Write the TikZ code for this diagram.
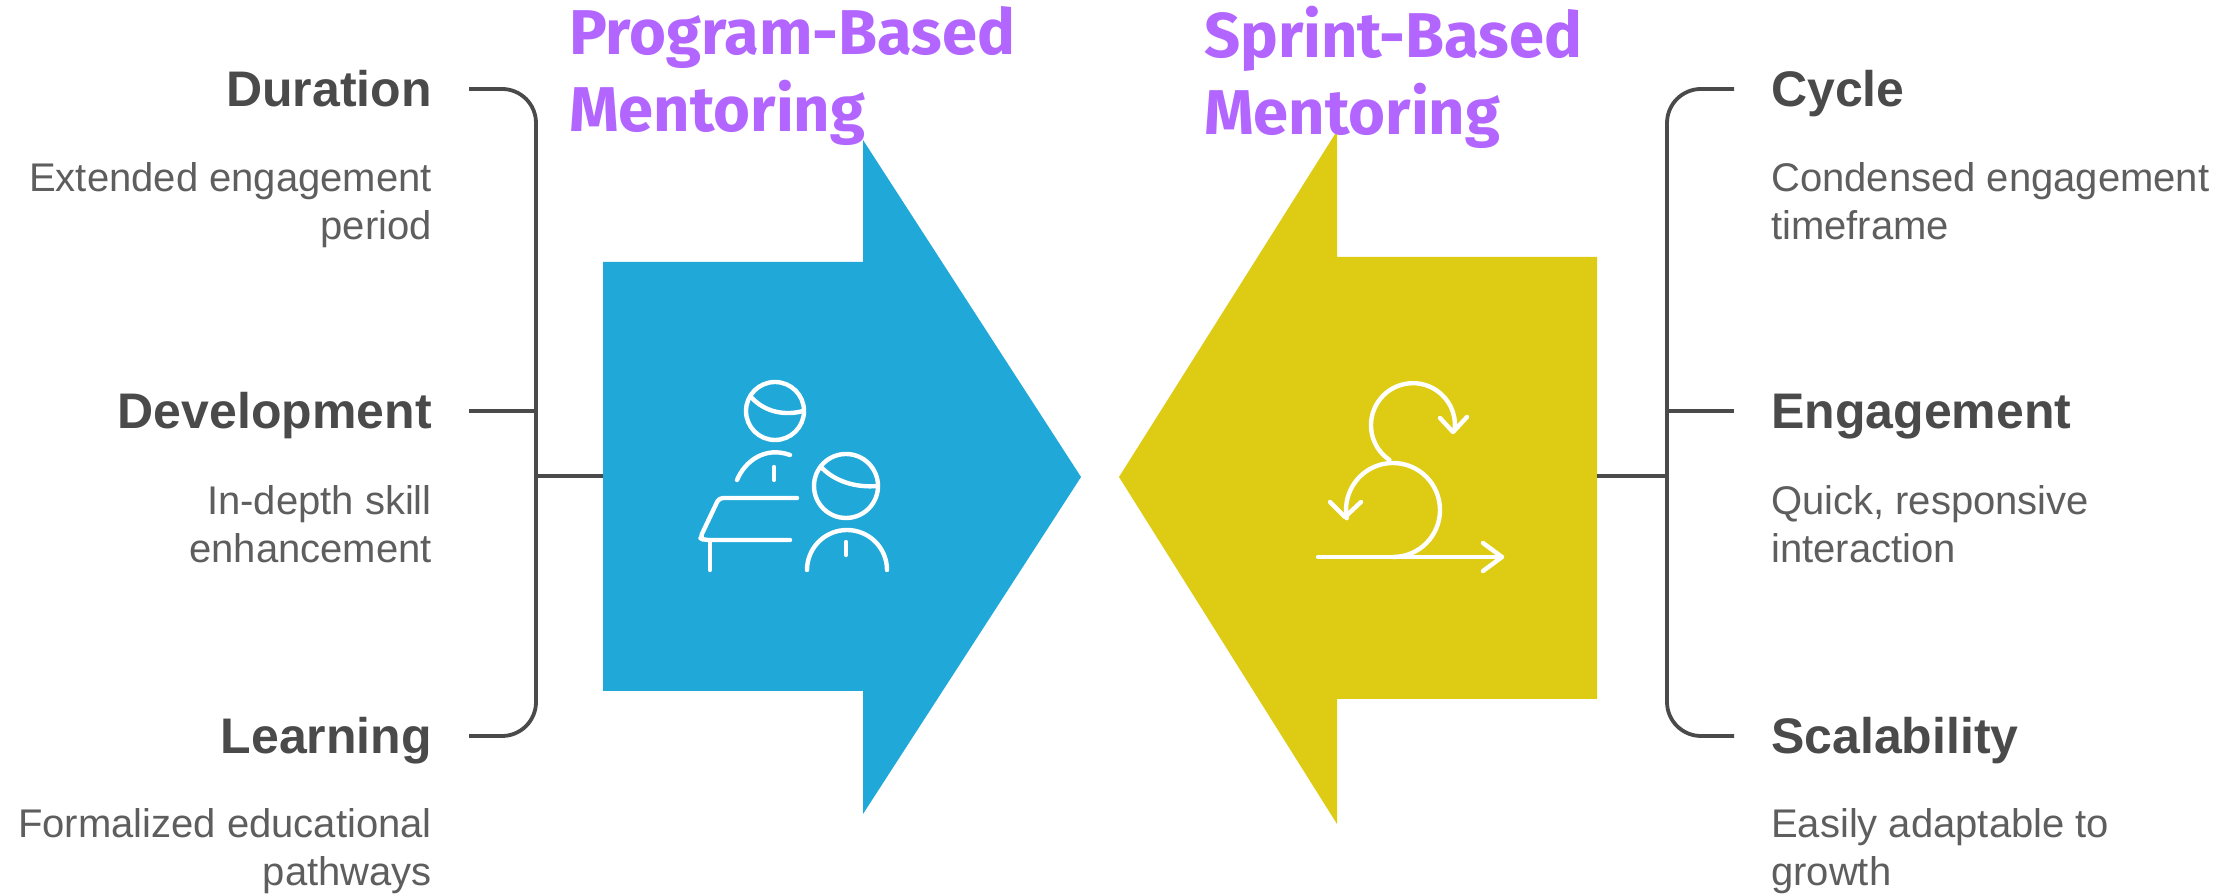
\documentclass[tikz,border=0pt]{standalone}
\usepackage{fontspec}
\setmainfont{Liberation Sans}
\newfontfamily\titlefont{Fira Sans}
\definecolor{progblue}{HTML}{1FA8D8}
\definecolor{sprintyellow}{HTML}{DECB14}
\definecolor{headgray}{HTML}{4A4A4A}
\definecolor{descgray}{HTML}{5E5E5E}
\definecolor{titlepurple}{HTML}{B266FF}
\tikzset{
  headbase/.style={inner sep=0pt,text height=35pt,text depth=0pt,text=headgray,font=\fontsize{50}{50}\selectfont\bfseries},
  headl/.style={headbase,anchor=east},
  headr/.style={headbase,anchor=west},
  descbase/.style={inner sep=0pt,text=descgray,font=\fontsize{40}{48}\selectfont},
  descl/.style={descbase,anchor=east,align=right},
  descr/.style={descbase,anchor=west,align=left},
  bigtitle/.style={inner sep=0pt,anchor=north west,align=left,text=titlepurple,font=\titlefont\fontsize{63.3}{77}\selectfont\bfseries},
  bracket/.style={draw=headgray,line width=3.8pt,rounded corners=34pt},
  link/.style={draw=headgray,line width=3.8pt},
  icon/.style={draw=white,line width=4.4pt,line cap=round,line join=round},
}
\begin{document}
\begin{tikzpicture}[x=1pt,y=1pt]
\useasboundingbox (0,0) rectangle (2240,896);
\fill[white] (0,0) rectangle (2240,896);
% arrows
\fill[progblue] (603,634) -- (863,634) -- (863,756) -- (1081,419) -- (863,82) -- (863,205) -- (603,205) -- cycle;
\fill[sprintyellow] (1597,639) -- (1337,639) -- (1337,765) -- (1119,419) -- (1337,72) -- (1337,197) -- (1597,197) -- cycle;
\coordinate (progedge) at (603,420);
\coordinate (sprintedge) at (1597,420);
% titles
\node[bigtitle] (tprog) at (569,890) {Program-Based\\Mentoring};
\node[bigtitle] (tsprint) at (1204,890) {Sprint-Based\\Mentoring};
% left labels
\node[headl] (dur) at (432,807) {Duration};
\node[headl] (dev) at (432,485) {Development};
\node[headl] (lrn) at (432,160) {Learning};
\node[descl] (ddur) at (432,690) {\strut Extended engagement\\\strut period};
\node[descl] (ddev) at (432,367) {\strut In-depth skill\\\strut enhancement};
\node[descl] (dlrn) at (432,44) {\strut Formalized educational\\\strut pathways};
% right labels
\node[headr] (cyc) at (1771,807) {Cycle};
\node[headr] (eng) at (1771,485) {Engagement};
\node[headr] (sca) at (1771,160) {Scalability};
\node[descr] (dcyc) at (1771,690) {\strut Condensed engagement\\\strut timeframe};
\node[descr] (deng) at (1771,367) {\strut Quick, responsive\\\strut interaction};
\node[descr] (dsca) at (1771,44) {\strut Easily adaptable to\\\strut growth};
% brackets
\coordinate (lspinet) at (536,807);
\coordinate (lspineb) at (536,160);
\coordinate (lspinem) at (536,485);
\coordinate (lspinel) at (536,420);
\coordinate (rspinet) at (1667,807);
\coordinate (rspineb) at (1667,160);
\coordinate (rspinem) at (1667,485);
\coordinate (rspinel) at (1667,420);
\draw[bracket] ([xshift=37pt]dur.east) -- (lspinet) -- (lspineb) -- ([xshift=37pt]lrn.east);
\draw[link] ([xshift=37pt]dev.east) -- (lspinem);
\draw[link] (lspinel) -- (progedge);
\draw[bracket] ([xshift=-37pt]cyc.west) -- (rspinet) -- (rspineb) -- ([xshift=-37pt]sca.west);
\draw[link] ([xshift=-37pt]eng.west) -- (rspinem);
\draw[link] (rspinel) -- (sprintedge);
% mentoring icon
\draw[icon] (775,485) circle (29);
\draw[icon] (752,498) .. controls (765,484) and (785,480) .. (803,485);
\draw[icon] (737,416) .. controls (745,435) and (765,450) .. (790,441);
\draw[icon] (774,429) -- (774,416);
\draw[icon,rounded corners=4pt] (797,398) -- (719,398) -- (700,358) -- (704,356) -- (790,356);
\draw[icon] (710,356) -- (710,326);
\draw[icon] (846,410) circle (32);
\draw[icon] (822,428) .. controls (835,415) and (855,408) .. (878,410);
\draw[icon] (807,326) arc (180:0:40);
\draw[icon] (846,354) -- (846,341);
% sprint icon
\draw[icon] (1318,339) -- (1502,339);
\draw[icon] (1483,353) -- (1502,339) -- (1483,325);
\draw[icon] (1393,339) arc (-90:190:47);
\draw[icon] (1330,394) -- (1345,379) -- (1361,394);
\draw[icon] (1389.5,436) arc (236:-5:42);
\draw[icon] (1440,478) -- (1453,464) -- (1467,479);
\end{tikzpicture}
\end{document}
